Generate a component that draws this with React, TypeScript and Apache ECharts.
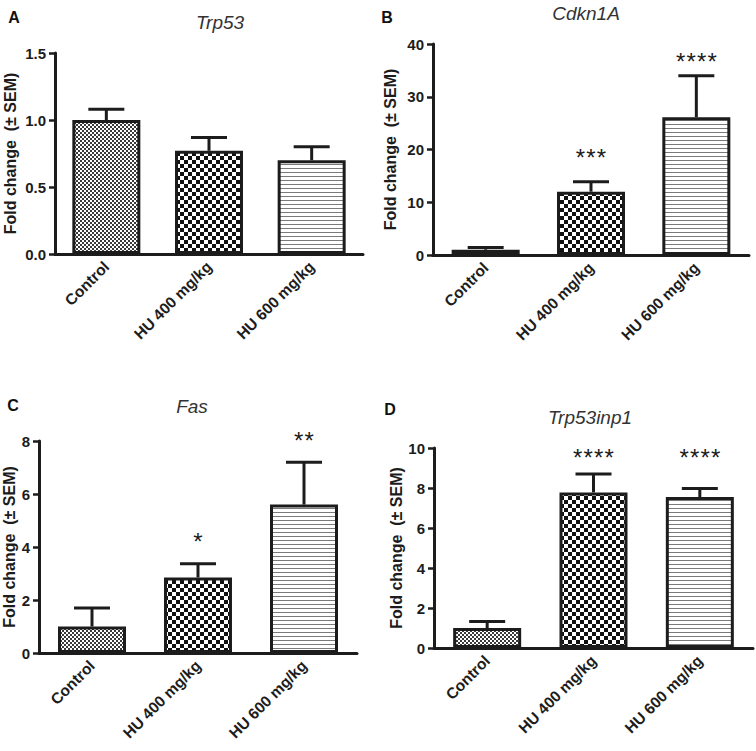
import React, { useEffect, useRef } from "react";
import * as echarts from "echarts";

const categories = ["Control", "HU 400 mg/kg", "HU 600 mg/kg"];

const trp53Mean = [1.0, 0.77, 0.7];
const trp53Sem = [0.08, 0.1, 0.1];
const trp53Stars = ["", "", ""];
const trp53StarAt = [0, 0, 0];

const cdkn1aMean = [1.0, 12.0, 26.1];
const cdkn1aSem = [0.4, 1.9, 7.9];
const cdkn1aStars = ["", "***", "****"];
const cdkn1aStarAt = [0, 19.5, 37.8];

const fasMean = [1.0, 2.85, 5.6];
const fasSem = [0.7, 0.52, 1.6];
const fasStars = ["", "*", "**"];
const fasStarAt = [0, 4.4, 8.23];

const inp1Mean = [1.0, 7.78, 7.55];
const inp1Sem = [0.32, 0.92, 0.43];
const inp1Stars = ["", "****", "****"];
const inp1StarAt = [0, 9.78, 9.78];

const panelTitles = ["Trp53", "Cdkn1A", "Fas", "Trp53inp1"];
const panelLetters = ["A", "B", "C", "D"];
const yMax = [1.5, 40, 8, 10];
const yInterval = [0.5, 10, 2, 2];
const yDecimals = [1, 0, 0, 0];

const FONT = "'Liberation Sans', Arial, Helvetica, sans-serif";
const INK = "#1c1c1c";

function makePattern(kind: string) {
  const c = document.createElement("canvas");
  let w = 4, h = 4;
  if (kind === "fine") { w = 4; h = 4; }
  if (kind === "check") { w = 8; h = 8; }
  if (kind === "lines") { w = 4; h = 4; }
  c.width = w; c.height = h;
  const ctx = c.getContext("2d")!;
  ctx.fillStyle = "#ffffff";
  ctx.fillRect(0, 0, w, h);
  if (kind === "fine") {
    ctx.fillStyle = "#3a3a3a";
    ctx.fillRect(0, 0, 2, 2);
    ctx.fillRect(2, 2, 2, 2);
  } else if (kind === "check") {
    ctx.fillStyle = "#111111";
    ctx.fillRect(0, 0, 4, 4);
    ctx.fillRect(4, 4, 4, 4);
  } else {
    ctx.fillStyle = "#7a7a7a";
    ctx.fillRect(0, 0, w, 1);
  }
  return { image: c, repeat: "repeat", imageWidth: w, imageHeight: h } as any;
}

export default function App() {
  const ref = useRef<HTMLDivElement>(null);
  useEffect(() => {
    if (!ref.current) return;
    const chart = echarts.init(ref.current, null, { renderer: "svg" });
    const patterns = [makePattern("fine"), makePattern("check"), makePattern("lines")];

    const grids = [
      { left: 55, top: 53, width: 308, height: 201 },
      { left: 433, top: 44, width: 316, height: 211 },
      { left: 39, top: 441, width: 318, height: 212 },
      { left: 434, top: 448, width: 319, height: 200 },
    ];
    const nameGaps = [37, 35, 21, 30];
    const means = [trp53Mean, cdkn1aMean, fasMean, inp1Mean];
    const sems = [trp53Sem, cdkn1aSem, fasSem, inp1Sem];
    const stars = [trp53Stars, cdkn1aStars, fasStars, inp1Stars];
    const starAt = [trp53StarAt, cdkn1aStarAt, fasStarAt, inp1StarAt];
    const titlePos = [[220, 22], [586, 13], [192, 406], [590, 417]];
    const letterPos = [[14, 17], [387, 17], [13, 405], [390, 409]];

    const xAxes: any[] = [];
    const yAxes: any[] = [];
    const series: any[] = [];
    const graphics: any[] = [];

    for (let p = 0; p < 4; p++) {
      xAxes.push({
        type: "category",
        gridIndex: p,
        data: categories,
        axisLine: { lineStyle: { color: INK, width: 3 } },
        axisTick: { alignWithLabel: true, length: 6, lineStyle: { color: INK, width: 2.5 } },
        axisLabel: {
          rotate: 45,
          margin: 10,
          color: INK,
          fontFamily: FONT,
          fontWeight: "bold",
          fontSize: 15.5,
        },
      });
      yAxes.push({
        type: "value",
        gridIndex: p,
        min: 0,
        max: yMax[p],
        interval: yInterval[p],
        name: "Fold change  (\u00b1 SEM)",
        nameLocation: "middle",
        nameRotate: 90,
        nameGap: nameGaps[p],
        nameTextStyle: { color: INK, fontFamily: FONT, fontWeight: "bold", fontSize: 16 },
        splitLine: { show: false },
        axisLine: { show: true, lineStyle: { color: INK, width: 3 } },
        axisTick: { show: true, length: 6, lineStyle: { color: INK, width: 2.5 } },
        axisLabel: {
          margin: 9,
          color: INK,
          fontFamily: FONT,
          fontWeight: "bold",
          fontSize: 15,
          formatter: (v: number) => v.toFixed(yDecimals[p]),
        },
      });
      series.push({
        type: "bar",
        xAxisIndex: p,
        yAxisIndex: p,
        barWidth: 68,
        z: 2,
        data: means[p].map((v, i) => ({
          value: v,
          itemStyle: { color: patterns[i], borderColor: INK, borderWidth: 3 },
        })),
      });
      series.push({
        type: "custom",
        xAxisIndex: p,
        yAxisIndex: p,
        z: 3,
        encode: { x: 0, y: 1 },
        data: means[p].map((v, i) => [i, v, sems[p][i]]),
        renderItem: (params: any, api: any) => {
          const idx = api.value(0);
          const v = api.value(1);
          const e = api.value(2);
          const b = api.coord([idx, v]);
          const t = api.coord([idx, v + e]);
          const half = 18;
          return {
            type: "group",
            children: [
              { type: "line", shape: { x1: b[0], y1: b[1], x2: t[0], y2: t[1] }, style: { stroke: INK, lineWidth: 3 } },
              { type: "line", shape: { x1: t[0] - half, y1: t[1], x2: t[0] + half, y2: t[1] }, style: { stroke: INK, lineWidth: 3 } },
            ],
          };
        },
      });
      series.push({
        type: "custom",
        xAxisIndex: p,
        yAxisIndex: p,
        z: 4,
        encode: { x: 0, y: 1 },
        data: stars[p].map((s, i) => [i, starAt[p][i], s.length]),
        renderItem: (params: any, api: any) => {
          const n = api.value(2);
          if (!n) return null;
          const c = api.coord([api.value(0), api.value(1)]);
          const kids: any[] = [];
          for (let k = 0; k < n; k++) {
            kids.push({
              type: "text",
              x: c[0] + (k - (n - 1) / 2) * 10.5,
              y: c[1] + 5.5,
              style: {
                text: "*",
                fill: INK,
                font: `24px ${FONT}`,
                align: "center",
                verticalAlign: "middle",
              },
            });
          }
          return { type: "group", children: kids };
        },
      });
      graphics.push({
        type: "text",
        x: titlePos[p][0],
        y: titlePos[p][1],
        style: {
          text: panelTitles[p],
          fill: "#333",
          font: `italic 19px ${FONT}`,
          align: "center",
          verticalAlign: "middle",
        },
      });
      graphics.push({
        type: "text",
        x: letterPos[p][0],
        y: letterPos[p][1],
        style: {
          text: panelLetters[p],
          fill: "#111",
          font: `bold 16px ${FONT}`,
          align: "center",
          verticalAlign: "middle",
        },
      });
    }

    chart.setOption({
      animation: false,
      backgroundColor: "#ffffff",
      grid: grids.map((g) => ({ ...g, containLabel: false })),
      xAxis: xAxes,
      yAxis: yAxes,
      series,
      graphic: graphics,
    });
    return () => chart.dispose();
  }, []);
  return (
    <div
      ref={ref}
      style={{ position: "fixed", left: 0, top: 0, width: 756, height: 751, background: "#fff" }}
    />
  );
}
